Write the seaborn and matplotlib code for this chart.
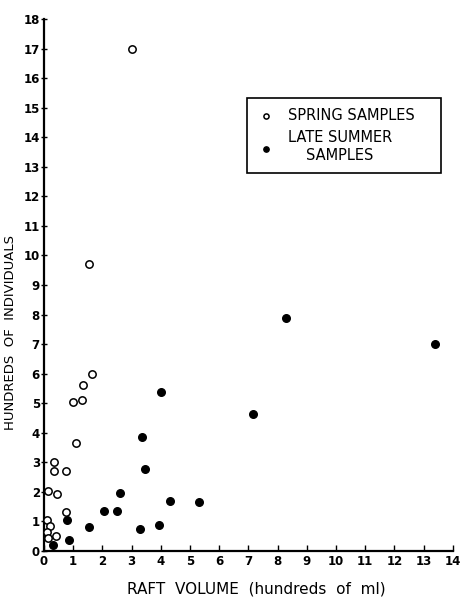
import matplotlib
matplotlib.use("Agg")
import matplotlib.pyplot as plt
import seaborn as sns
import pandas as pd

# spring samples (open circles)
spring_x = [3.0, 1.55, 1.65, 1.35, 1.3, 1.0, 1.1, 0.35, 0.35, 0.75, 0.15, 0.45, 0.75, 0.1, 0.2, 0.1, 0.4, 0.15]
spring_y = [17.0, 9.7, 5.98, 5.6, 5.12, 5.04, 3.65, 3.0, 2.7, 2.7, 2.03, 1.92, 1.3, 1.05, 0.85, 0.65, 0.51, 0.43]

# late summer samples (filled circles)
summer_x = [13.4, 8.3, 7.15, 4.0, 3.35, 3.45, 2.6, 4.3, 5.3, 2.05, 2.5, 0.8, 1.55, 3.95, 3.3, 0.85, 0.3]
summer_y = [7.0, 7.88, 4.63, 5.37, 3.87, 2.78, 1.96, 1.67, 1.64, 1.36, 1.36, 1.05, 0.79, 0.86, 0.75, 0.37, 0.18]

x_ticks = list(range(0, 15))
y_ticks = list(range(0, 19))

spring = pd.DataFrame({"vol": spring_x, "ind": spring_y})
summer = pd.DataFrame({"vol": summer_x, "ind": summer_y})

sns.set_style("ticks")
plt.rcParams["font.family"] = ["DejaVu Sans"]
plt.rcParams["text.color"] = "black"
plt.rcParams["axes.labelcolor"] = "black"
plt.rcParams["xtick.color"] = "black"
plt.rcParams["ytick.color"] = "black"

fig = plt.figure(figsize=(4.63, 6.0), dpi=100)
ax = fig.add_axes([0.095, 0.082, 0.883, 0.886])

sns.scatterplot(data=spring, x="vol", y="ind", ax=ax, marker="o", s=28,
                facecolor="white", edgecolor="black", linewidth=1.1,
                label="SPRING SAMPLES", clip_on=False, zorder=3)
sns.scatterplot(data=summer, x="vol", y="ind", ax=ax, marker="o", s=30,
                color="black", edgecolor="black", linewidth=1.0,
                label="LATE SUMMER\nSAMPLES", clip_on=False, zorder=3)

ax.set_xlim(0, 14)
ax.set_ylim(0, 18)
ax.set_xticks(x_ticks)
ax.set_yticks(y_ticks)
ax.tick_params(axis="x", direction="in", length=4, width=1.0, labelsize=8.5, pad=3)
ax.tick_params(axis="y", direction="inout", length=4, width=1.0, labelsize=8.5, pad=1)
for lab in ax.get_xticklabels() + ax.get_yticklabels():
    lab.set_fontweight("bold")

sns.despine(ax=ax)
ax.spines["left"].set_linewidth(1.6)
ax.spines["bottom"].set_linewidth(1.6)
ax.spines["left"].set_color("black")
ax.spines["bottom"].set_color("black")

ax.set_xlabel("RAFT  VOLUME  (hundreds  of  ml)", fontsize=11)
ax.set_ylabel("HUNDREDS  OF  INDIVIDUALS", fontsize=9.5)
ax.xaxis.set_label_coords(0.52, -0.058)
ax.yaxis.set_label_coords(-0.065, 0.41)

leg = ax.legend(loc="upper left", bbox_to_anchor=(0.496, 0.712, 0.474, 0.14),
                mode="expand", frameon=True, fancybox=False, fontsize=10.5,
                edgecolor="black", handletextpad=0.9, borderpad=0.7,
                handlelength=1.2, labelspacing=0.5, markerscale=0.7,
                borderaxespad=0)
leg.get_frame().set_linewidth(1.2)
leg.get_frame().set_alpha(1)
for t in leg.get_texts():
    t.set_multialignment("center")
    t.set_color("black")

fig.savefig("out.png", dpi=100)
